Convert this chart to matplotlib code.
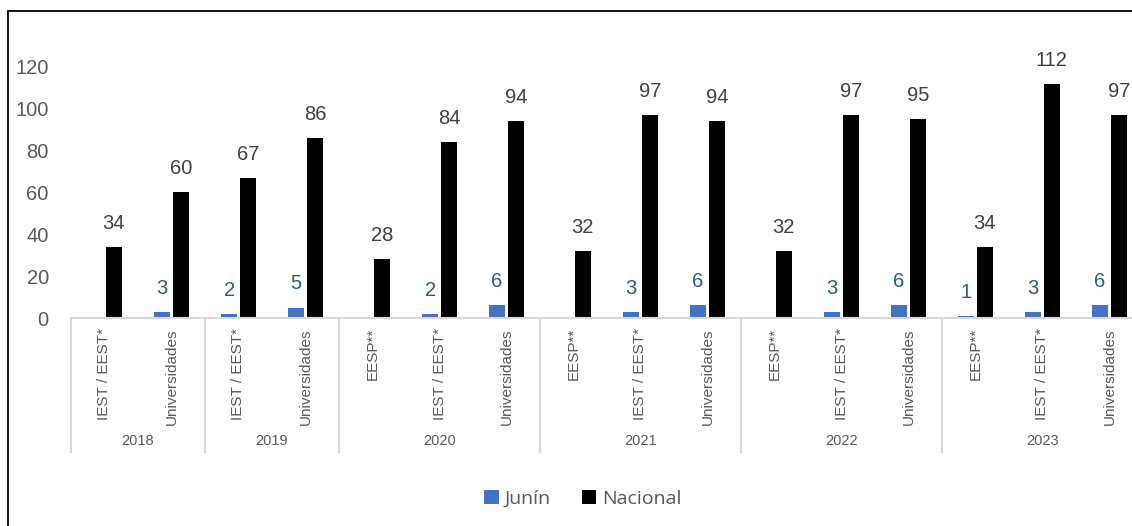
import numpy as np
import matplotlib.pyplot as plt
import matplotlib.transforms as mtransforms
from matplotlib.patches import Rectangle

# data
years = ['2018', '2019', '2020', '2021', '2022', '2023']
types_by_year = [
    ['IEST / EEST*', 'Universidades'],
    ['IEST / EEST*', 'Universidades'],
    ['EESP**', 'IEST / EEST*', 'Universidades'],
    ['EESP**', 'IEST / EEST*', 'Universidades'],
    ['EESP**', 'IEST / EEST*', 'Universidades'],
    ['EESP**', 'IEST / EEST*', 'Universidades'],
]
junin = [np.nan, 3, 2, 5, np.nan, 2, 6, np.nan, 3, 6, np.nan, 3, 6, 1, 3, 6]
nacional = [34, 60, 67, 86, 28, 84, 94, 32, 97, 94, 32, 97, 95, 34, 112, 97]

axis_font = 'Liberation Sans'
grey_txt = '#595959'

fig = plt.figure(figsize=(11.32, 5.26), dpi=100)
ax = fig.add_axes([71/1132, 208/526, 1072/1132, 251/526])

n = len(nacional)
x = np.arange(n)
w = 0.25
off = 0.14

b1 = ax.bar(x - off, junin, w, color='#4472C4', zorder=2)
b2 = ax.bar(x + off, nacional, w, color='black', zorder=2)

for xi, v in zip(x, junin):
    if np.isnan(v):
        continue
    ax.annotate('%d' % v, (xi - off, v), xytext=(0, 13), textcoords='offset points',
                ha='center', va='baseline', fontsize=14.5, color='#215F8A',
                family=axis_font, annotation_clip=False)
for xi, v in zip(x, nacional):
    ax.annotate('%d' % v, (xi + off, v), xytext=(0, 13), textcoords='offset points',
                ha='center', va='baseline', fontsize=14.5, color='#404040',
                family=axis_font, annotation_clip=False)

ax.set_xlim(-0.5, n - 0.5)
ax.set_ylim(0, 120)
ax.set_yticks(np.arange(0, 121, 20))
ax.tick_params(axis='y', length=0, pad=16, labelsize=14.5, labelcolor=grey_txt)
for lab in ax.get_yticklabels():
    lab.set_family(axis_font)
ax.set_xticks([])

for s in ['top', 'right', 'left']:
    ax.spines[s].set_visible(False)
ax.spines['bottom'].set_color('#d9d9d9')
ax.spines['bottom'].set_linewidth(1.5)

# multi-level category axis
trans = mtransforms.blended_transform_factory(ax.transData, ax.transAxes)
pos = 0
bounds = [-0.5]
for yr, types in zip(years, types_by_year):
    for t in types:
        ax.text(pos, -0.04, t, rotation=90, ha='center', va='top', fontsize=11,
                color=grey_txt, family=axis_font, transform=trans)
        pos += 1
    ax.text(pos - len(types) / 2 - 0.5, -0.49, yr, ha='center', va='center',
            fontsize=10.5, color=grey_txt, family=axis_font, transform=trans)
    bounds.append(pos - 0.5)

for b in bounds:
    ax.plot([b, b], [0, -0.534], color='#d9d9d9', lw=1.5, transform=trans, clip_on=False)

leg = fig.legend([b1, b2], ['Junín', 'Nacional'], loc='center', bbox_to_anchor=(0.515, 0.052),
                 ncol=2, frameon=False, handlelength=0.75, handleheight=0.75,
                 handletextpad=0.3, columnspacing=1.6,
                 prop={'family': 'Open Sans', 'size': 14})
for t in leg.get_texts():
    t.set_color(grey_txt)

# chart frame (left and top edges visible in the crop)
fig.add_artist(Rectangle((8/1132, -0.5), 2, 0.5 + (526 - 11)/526, transform=fig.transFigure,
                         fill=False, edgecolor='black', lw=1.3))

plt.savefig('out.png', dpi=100)
